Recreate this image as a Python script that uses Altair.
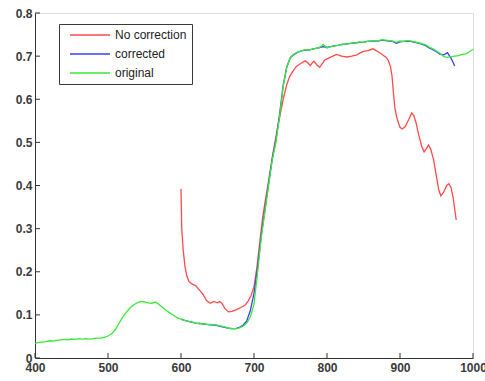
import altair as alt
import pandas as pd

# Reflectance spectra: wavelength (nm) against reflectance
orig_nm = list(range(400, 1001, 5))
orig_val = [
    0.034, 0.036, 0.037, 0.038, 0.040, 0.039, 0.041, 0.042, 0.043, 0.042,
    0.044, 0.043, 0.045, 0.044, 0.045, 0.044, 0.045, 0.046, 0.046, 0.048,
    0.051, 0.056, 0.066, 0.080, 0.094, 0.106, 0.116, 0.123, 0.128, 0.131,
    0.130, 0.128, 0.127, 0.130, 0.124, 0.117, 0.110, 0.104, 0.099, 0.093,
    0.090, 0.087, 0.085, 0.083, 0.081, 0.080, 0.079, 0.078, 0.078, 0.077,
    0.076, 0.074, 0.072, 0.069, 0.068, 0.068, 0.070, 0.074, 0.081, 0.095,
    0.125, 0.200, 0.280, 0.340, 0.400, 0.460, 0.500, 0.560, 0.630, 0.675,
    0.697, 0.705, 0.710, 0.712, 0.715, 0.714, 0.716, 0.718, 0.720, 0.727,
    0.719, 0.722, 0.724, 0.725, 0.727, 0.728, 0.729, 0.730, 0.731, 0.733,
    0.732, 0.734, 0.735, 0.736, 0.735, 0.738, 0.737, 0.736, 0.735, 0.732,
    0.735, 0.734, 0.736, 0.735, 0.733, 0.731, 0.729, 0.726, 0.721, 0.717,
    0.712, 0.706, 0.699, 0.697, 0.699, 0.700, 0.701, 0.704, 0.705, 0.710,
    0.716,
]

corr_nm = list(range(600, 976, 5))
corr_val = [
    0.090, 0.087, 0.085, 0.083, 0.081, 0.080, 0.079, 0.078, 0.077, 0.076,
    0.075, 0.073, 0.071, 0.069, 0.068, 0.068, 0.071, 0.076, 0.086, 0.110,
    0.150, 0.210, 0.285, 0.345, 0.405, 0.462, 0.505, 0.565, 0.632, 0.676,
    0.697, 0.704, 0.709, 0.712, 0.714, 0.714, 0.716, 0.718, 0.720, 0.722,
    0.720, 0.722, 0.724, 0.725, 0.727, 0.728, 0.729, 0.730, 0.731, 0.732,
    0.732, 0.734, 0.735, 0.735, 0.735, 0.737, 0.736, 0.735, 0.734, 0.730,
    0.733, 0.734, 0.735, 0.734, 0.732, 0.730, 0.728, 0.724, 0.719, 0.715,
    0.710, 0.704, 0.703, 0.708, 0.695, 0.677,
]

nocorr_nm = [
    600, 601, 603, 605.5, 608, 611, 615, 620, 625, 630, 635, 640, 645, 650,
    653, 656, 660, 665, 670, 676, 682, 688, 692, 696, 700, 704, 708, 712,
    716, 720, 726, 733, 740, 745, 749, 754, 758, 764, 770, 774, 777, 780,
    782, 786, 790, 794, 797, 803, 808, 813, 820, 827, 834, 841, 846, 850,
    856, 863, 866, 870, 874, 877, 881, 884, 887, 889, 891, 893, 896, 900,
    903, 907, 912, 916, 919, 922, 926, 930, 933, 936, 939, 942, 946, 950,
    953, 956, 960, 964, 967, 970, 973, 975, 977,
]
nocorr_val = [
    0.392, 0.300, 0.250, 0.212, 0.190, 0.177, 0.172, 0.168, 0.158, 0.148,
    0.133, 0.127, 0.131, 0.128, 0.131, 0.127, 0.115, 0.107, 0.108, 0.112,
    0.117, 0.123, 0.132, 0.145, 0.165, 0.210, 0.270, 0.328, 0.370, 0.410,
    0.475, 0.540, 0.600, 0.635, 0.653, 0.667, 0.676, 0.683, 0.689, 0.684,
    0.678, 0.685, 0.688, 0.680, 0.674, 0.684, 0.691, 0.696, 0.700, 0.704,
    0.700, 0.698, 0.700, 0.703, 0.708, 0.711, 0.713, 0.717, 0.714, 0.710,
    0.706, 0.702, 0.697, 0.690, 0.675, 0.655, 0.615, 0.580, 0.555, 0.535,
    0.531, 0.536, 0.553, 0.568, 0.562, 0.545, 0.515, 0.490, 0.478, 0.485,
    0.494, 0.485, 0.460, 0.420, 0.390, 0.376, 0.385, 0.400, 0.404, 0.395,
    0.370, 0.345, 0.320,
]

series_names = ["No correction", "corrected", "original"]
series_colors = ["#ff4a4a", "#3c3cff", "#36ea36"]

y_ticks = [0, 0.1, 0.2, 0.3, 0.4, 0.5, 0.6, 0.7, 0.8]
x_ticks = [400, 500, 600, 700, 800, 900, 1000]

frames = [
    pd.DataFrame({"nm": nocorr_nm, "val": nocorr_val, "series": series_names[0]}),
    pd.DataFrame({"nm": corr_nm, "val": corr_val, "series": series_names[1]}),
    pd.DataFrame({"nm": orig_nm, "val": orig_val, "series": series_names[2]}),
]

W, H = 438, 345

x_scale = alt.Scale(domain=[400, 1000], nice=False, zero=False)
y_scale = alt.Scale(domain=[0, 0.8], nice=False)

color = alt.Color(
    "series:N",
    scale=alt.Scale(domain=series_names, range=series_colors),
    legend=alt.Legend(
        title=None,
        orient="none",
        legendX=24,
        legendY=11,
        symbolType="M0,0H10",
        symbolSize=64,
        symbolStrokeWidth=1.5,
        labelOffset=39,
        padding=5,
        rowPadding=7,
        strokeColor="#3a3a3a",
        fillColor="white",
        labelFont="Liberation Sans",
        labelFontSize=12,
        labelColor="#222222",
    ),
)

x_axis = alt.Axis(
    values=x_ticks, title=None, ticks=False, tickSize=0, labelPadding=4,
    labelFont="Liberation Sans", labelFontWeight="bold", labelFontSize=12,
    labelColor="#3a3a3a", domainColor="#333333", grid=False, format="d",
    labelFlush=False, labelOverlap=False,
)
y_axis = alt.Axis(
    values=y_ticks, title=None, ticks=False, tickSize=0, labelPadding=3,
    labelFont="Liberation Sans", labelFontWeight="bold", labelFontSize=12,
    labelColor="#3a3a3a", domainColor="#333333", grid=False, format="~g",
    labelFlush=False, labelOverlap=False,
)

layers = []
for df in frames:
    layers.append(
        alt.Chart(df)
        .mark_line(strokeWidth=1.3)
        .encode(
            x=alt.X("nm:Q", scale=x_scale, axis=x_axis),
            y=alt.Y("val:Q", scale=y_scale, axis=y_axis),
            color=color,
        )
    )

# inward-pointing tick marks on the left and bottom axes
ytick_layer = (
    alt.Chart(pd.DataFrame({"v": y_ticks}))
    .mark_rule(color="#333333", strokeWidth=1)
    .encode(y=alt.Y("v:Q", scale=y_scale, axis=y_axis), x=alt.value(0), x2=alt.value(5))
)
xtick_layer = (
    alt.Chart(pd.DataFrame({"v": x_ticks}))
    .mark_rule(color="#333333", strokeWidth=1)
    .encode(x=alt.X("v:Q", scale=x_scale, axis=x_axis), y=alt.value(H), y2=alt.value(H - 5))
)

chart = (
    alt.layer(*layers, ytick_layer, xtick_layer)
    .properties(
        width=W,
        height=H,
        autosize=alt.AutoSizeParams(type="none"),
        padding={"left": 35, "top": 13, "right": 12, "bottom": 23},
    )
    .configure_view(stroke="#e8e8e8")
    .configure(background="white")
)

chart.save("out.html", embed_options={"renderer": "svg", "actions": False})
